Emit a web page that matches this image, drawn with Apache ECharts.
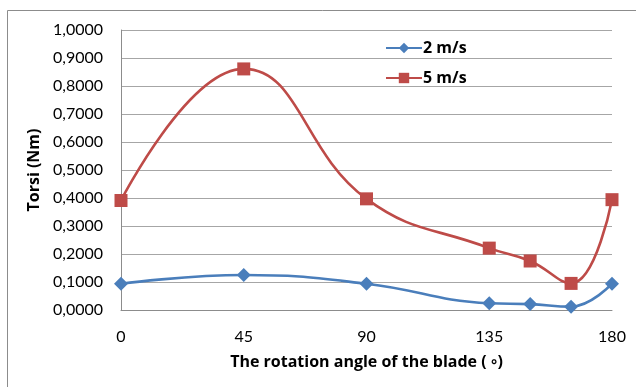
<!DOCTYPE html>
<html>
<head>
<meta charset="utf-8">
<script src="https://cdn.jsdelivr.net/npm/echarts@6/dist/echarts.min.js"></script>
<style>
  html, body { margin: 0; padding: 0; background: #fff; }
  #chart { width: 636px; height: 387px; }
</style>
</head>
<body>
<div id="chart"></div>
<script>
// Blade rotation angles (degrees) at which torque was measured
const angles = [0, 45, 90, 135, 150, 165, 180];
// Torque (Nm) at wind speed 2 m/s
const torque2 = [0.094, 0.125, 0.094, 0.024, 0.021, 0.012, 0.094];
// Torque (Nm) at wind speed 5 m/s
const torque5 = [0.391, 0.861, 0.397, 0.221, 0.175, 0.095, 0.394];
const seriesNames = ['2 m/s', '5 m/s'];

const chart = echarts.init(document.getElementById('chart'), null, { renderer: 'canvas' });
const font = 'Lato, "Open Sans", sans-serif';
const boldFont = '"Open Sans", Lato, sans-serif';

const pairs = (ys) => angles.map((a, i) => [a, ys[i]]);

chart.setOption({
  animation: false,
  backgroundColor: '#fff',
  graphic: [{
    type: 'rect',
    shape: { x: 7.5, y: 10.5, width: 700, height: 500 },
    style: { fill: 'none', stroke: '#8c8c8c', lineWidth: 1 },
    silent: true
  }],
  grid: { left: 121, right: 24, top: 30, bottom: 77 },
  legend: {
    orient: 'vertical',
    left: 380,
    top: 35,
    itemGap: 14,
    itemWidth: 36,
    itemHeight: 13,
    textStyle: { fontFamily: boldFont, fontSize: 16, fontWeight: 'bold', color: '#000', padding: [0, 0, 0, -4] },
    data: seriesNames
  },
  xAxis: {
    type: 'value',
    min: 0, max: 180, interval: 45,
    name: 'The rotation angle of the blade ( \u25E6)',
    nameLocation: 'middle',
    nameGap: 44,
    nameTextStyle: { fontFamily: boldFont, fontSize: 16, fontWeight: 'bold', color: '#000' },
    axisLine: { show: true, onZero: false, lineStyle: { color: '#8c8c8c', width: 1 } },
    axisTick: { show: false },
    splitLine: { show: false },
    axisLabel: { fontFamily: font, fontSize: 16, color: '#000', margin: 19 }
  },
  yAxis: {
    type: 'value',
    min: 0, max: 1, interval: 0.1,
    name: 'Torsi (Nm)',
    nameLocation: 'middle',
    nameGap: 69,
    nameRotate: 90,
    nameTextStyle: { fontFamily: boldFont, fontSize: 16, fontWeight: 'bold', color: '#000' },
    axisLine: { show: true, lineStyle: { color: '#8c8c8c', width: 1 } },
    axisTick: { show: false },
    splitLine: { show: true, lineStyle: { color: '#a6a6a6', width: 1 } },
    axisLabel: {
      fontFamily: font, fontSize: 16, color: '#000', margin: 18,
      formatter: (v) => v.toFixed(4).replace('.', ',')
    }
  },
  series: [
    {
      name: seriesNames[0],
      type: 'line',
      data: pairs(torque2),
      smooth: 0.45,
      symbol: 'diamond',
      symbolSize: 14,
      lineStyle: { color: '#4a7ebb', width: 2.6 },
      itemStyle: { color: '#4a7ebb' }
    },
    {
      name: seriesNames[1],
      type: 'line',
      data: pairs(torque5),
      smooth: 0.45,
      symbol: 'rect',
      symbolSize: 13,
      lineStyle: { color: '#be4b48', width: 2.6 },
      itemStyle: { color: '#be4b48' }
    }
  ]
});
</script>
</body>
</html>
